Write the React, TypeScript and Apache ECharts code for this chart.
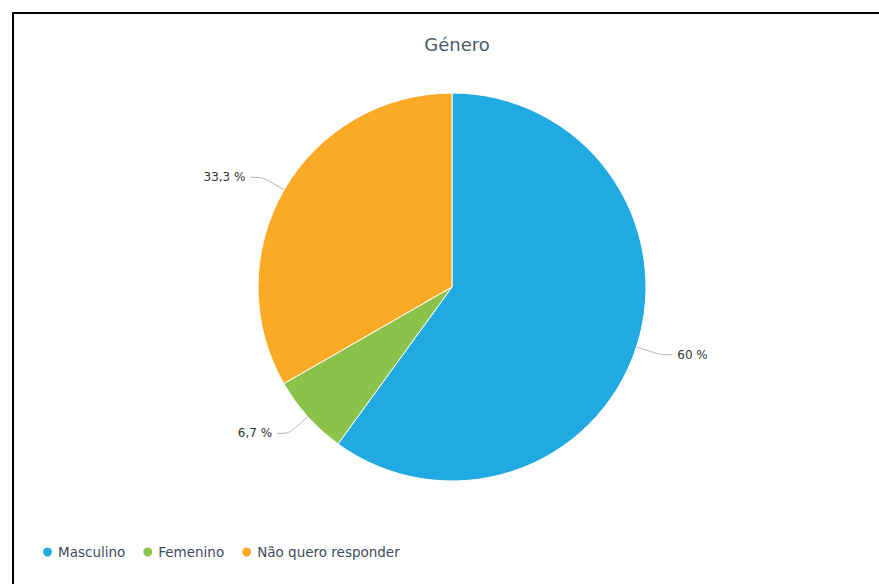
import React, { useEffect, useRef } from "react";
import * as echarts from "echarts";

const categories = ["Masculino", "Femenino", "Não quero responder"];
const values = [60, 6.7, 33.3];
const colors = ["#21a9e1", "#8bc34a", "#fbaa26"];
const titleText = "Género";

export default function App() {
  const ref = useRef<HTMLDivElement>(null);
  useEffect(() => {
    if (!ref.current) return;
    const chart = echarts.init(ref.current, null, { renderer: "svg" });
    chart.setOption({
      animation: false,
      color: colors,
      textStyle: { fontFamily: "DejaVu Sans" },
      title: {
        text: titleText,
        left: 452,
        top: 30,
        textAlign: "center",
        textStyle: { fontSize: 18, fontWeight: "normal", color: "#4a5a70", fontFamily: "DejaVu Sans" },
      },
      legend: {
        left: 36,
        top: 540,
        icon: "circle",
        itemWidth: 11,
        itemHeight: 11,
        itemGap: 16,
        textStyle: { fontSize: 13.5, color: "#3e4b5c", fontFamily: "DejaVu Sans" },
        data: categories,
      },
      series: [
        {
          type: "pie",
          center: [452, 287],
          radius: 194,
          startAngle: 90,
          clockwise: true,
          itemStyle: { borderColor: "#fff", borderWidth: 1 },
          label: {
            show: true,
            fontSize: 12,
            color: "#333",
            fontFamily: "DejaVu Sans",
            formatter: (p: any) => String(p.value).replace(".", ",") + " %",
          },
          labelLine: { show: true, length: 25, length2: 12, smooth: 0.3, lineStyle: { color: "#b0b0b0", width: 1 } },
          data: categories.map((c, i) => ({ name: c, value: values[i] })),
        },
      ],
    });
    return () => chart.dispose();
  }, []);
  return (
    <div style={{ position: "absolute", left: 0, top: 0, width: 879, height: 584, background: "#fff", overflow: "hidden" }}>
      <div
        style={{
          position: "absolute",
          left: 12,
          top: 12,
          width: 900,
          height: 600,
          border: "2px solid #000",
          boxSizing: "border-box",
        }}
      />
      <div ref={ref} style={{ position: "absolute", left: 0, top: 0, width: 879, height: 584 }} />
    </div>
  );
}
